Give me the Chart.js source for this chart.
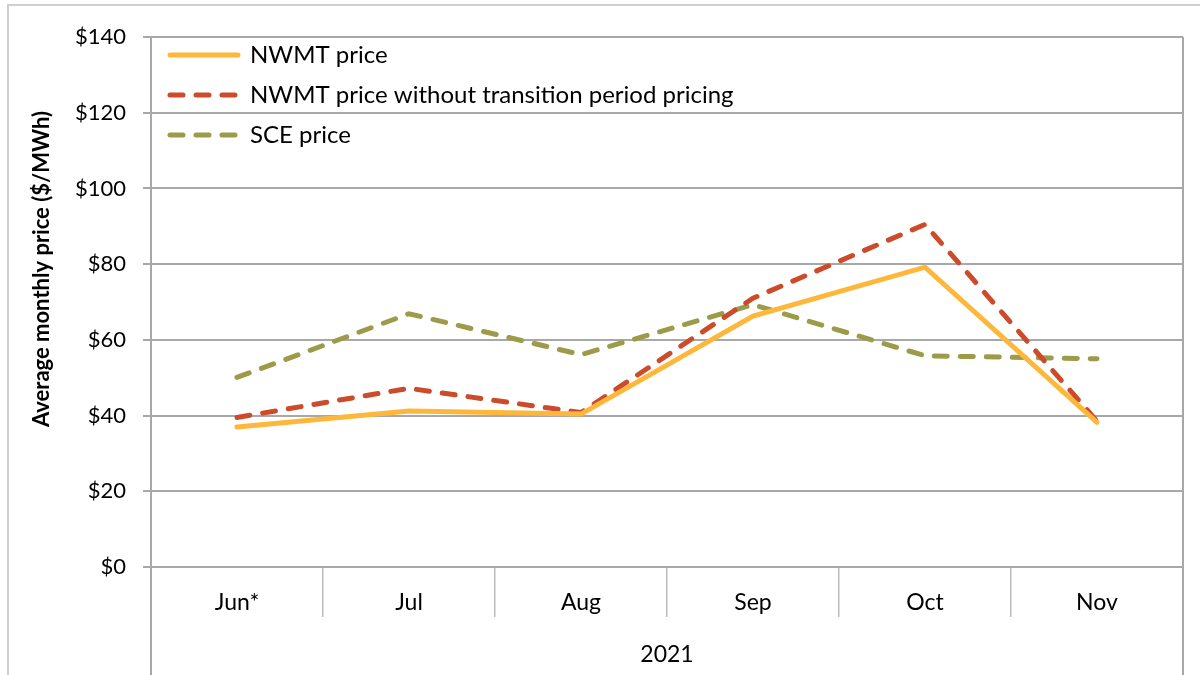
<!DOCTYPE html>
<html>
<head>
<meta charset="utf-8">
<script src="https://cdn.jsdelivr.net/npm/chart.js@4"></script>
<style>
  html, body { margin: 0; padding: 0; background: #fff; overflow: hidden; }
  #frame { position: absolute; left: 7px; top: 4px; width: 1200px; height: 700px; border: 2px solid #cfcfcf; }
  #chart { position: absolute; left: 0; top: 0; }
</style>
</head>
<body>
<div id="frame"><canvas id="chart" width="1190" height="669"></canvas></div>
<script>
// values
var months = ['Jun*', 'Jul', 'Aug', 'Sep', 'Oct', 'Nov'];
var nwmtPrice = [37.0, 41.2, 40.4, 66.3, 79.2, 38.2];
var nwmtNoTransition = [39.5, 47.2, 40.8, 71.0, 90.5, 38.5];
var scePrice = [50.1, 66.9, 56.1, 69.3, 55.8, 55.0];
var yTicks = [0, 20, 40, 60, 80, 100, 120, 140];
var yearLabel = '2021';
var yTitle = 'Average monthly price ($/MWh)';

var FONT = 'Lato, "Open Sans", sans-serif';
var GRID = '#a8a8a8';

// extends the left/right frame lines down through the category rows, and draws the y title
var framePlugin = {
  id: 'frame',
  afterLayout: function (chart) {
    var lg = chart.legend;
    if (lg) {
      var h = lg.height;
      lg.top = chart.chartArea.top - 10;
      lg.bottom = lg.top + h;
      lg.left = chart.chartArea.left + 3;
    }
  },
  afterDraw: function (chart) {
    var ctx = chart.ctx, a = chart.chartArea;
    ctx.save();
    ctx.strokeStyle = GRID;
    ctx.lineWidth = 2;
    ctx.beginPath();
    ctx.moveTo(a.left, a.bottom);
    ctx.lineTo(a.left, chart.height);
    ctx.moveTo(a.right, a.top);
    ctx.lineTo(a.right, chart.height);
    ctx.stroke();
    ctx.translate(33, (a.top + a.bottom) / 2 - 33);
    ctx.rotate(-Math.PI / 2);
    ctx.font = 'bold 22px ' + FONT;
    ctx.fillStyle = '#000';
    ctx.textAlign = 'center';
    ctx.textBaseline = 'middle';
    ctx.fillText(yTitle, 0, 0);
    ctx.restore();
  }
};

new Chart(document.getElementById('chart'), {
  type: 'line',
  data: {
    labels: months,
    datasets: [
      { label: 'NWMT price', data: nwmtPrice, borderColor: '#FDB83B', borderWidth: 5, borderCapStyle: 'round', borderJoinStyle: 'miter' },
      { label: 'NWMT price without transition period pricing', data: nwmtNoTransition, borderColor: '#CB4B2B', borderWidth: 5, borderDash: [13, 13], borderCapStyle: 'round' },
      { label: 'SCE price', data: scePrice, borderColor: '#9C9B4A', borderWidth: 5, borderDash: [13, 13], borderCapStyle: 'round' }
    ]
  },
  options: {
    responsive: false,
    animation: false,
    layout: { padding: { top: 31, right: 16, left: 0, bottom: 0 } },
    elements: { point: { radius: 0 }, line: { tension: 0 } },
    plugins: {
      tooltip: { enabled: false },
      legend: {
        position: 'chartArea',
        align: 'start',
        labels: {
          usePointStyle: true,
          pointStyleWidth: 68,
          padding: 16,
          color: '#000',
          font: { family: FONT, size: 24 },
          generateLabels: function (chart) {
            return chart.data.datasets.map(function (ds, i) {
              return {
                text: ds.label, datasetIndex: i, hidden: false,
                strokeStyle: ds.borderColor, fillStyle: ds.borderColor,
                lineWidth: ds.borderWidth, lineDash: ds.borderDash || [],
                lineCap: 'round', pointStyle: 'line', fontColor: '#000'
              };
            });
          }
        }
      }
    },
    scales: {
      x: {
        offset: true,
        afterFit: function (s) { s.height = 108; },
        grid: { offset: true, drawOnChartArea: false, tickLength: 50, color: '#bdbdbd', lineWidth: 1.5 },
        border: { display: true, color: GRID, width: 2 },
        ticks: { color: '#000', padding: -28, font: { family: FONT, size: 23 } },
        title: { display: true, text: yearLabel, color: '#000', padding: { top: 0, bottom: 7 }, font: { family: FONT, size: 23 } }
      },
      y: {
        min: yTicks[0],
        max: yTicks[yTicks.length - 1],
        afterFit: function (s) { s.width = 142; },
        afterBuildTicks: function (s) { s.ticks = yTicks.map(function (v) { return { value: v }; }); },
        grid: { color: GRID, lineWidth: 2, tickLength: 8 },
        border: { display: true, color: GRID, width: 2 },
        ticks: { color: '#000', padding: 17, font: { family: FONT, size: 22 }, callback: function (v) { return '$' + v; } }
      }
    }
  },
  plugins: [framePlugin]
});
</script>
</body>
</html>
